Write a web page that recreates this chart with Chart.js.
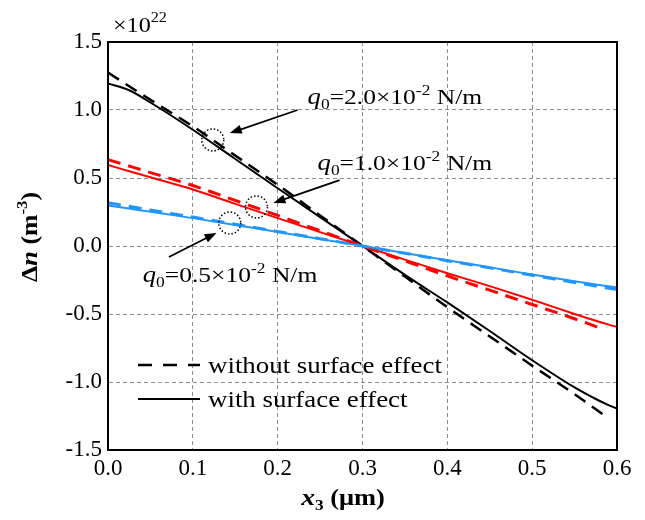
<!DOCTYPE html>
<html>
<head>
<meta charset="utf-8">
<script src="https://cdn.jsdelivr.net/npm/chart.js@4.4.0/dist/chart.umd.min.js"></script>
<style>
  html, body { margin: 0; padding: 0; background: #fff; }
  #wrap { width: 645px; height: 520px; }
</style>
</head>
<body>
<div id="wrap"><canvas id="chart" width="645" height="520"></canvas></div>
<script>
// x3 positions (um)
const xSolid = [0, 0.025, 0.05, 0.1, 0.15, 0.2, 0.25, 0.3, 0.35, 0.4, 0.45, 0.5, 0.55, 0.575, 0.59, 0.6];
const xDashed = [0, 0.05, 0.1, 0.15, 0.2, 0.25, 0.3, 0.35, 0.4, 0.45, 0.5, 0.55, 0.585];

// delta n (x10^22 m^-3), with surface effect (solid)
const q20Solid = [1.195, 1.145, 1.055, 0.855, 0.64, 0.425, 0.212, 0, -0.212, -0.415, -0.625, -0.84, -1.04, -1.125, -1.17, -1.195];
const q10Solid = [0.595, 0.55, 0.505, 0.415, 0.31, 0.205, 0.102, 0, -0.1, -0.2, -0.295, -0.395, -0.5, -0.55, -0.578, -0.595];
const q05Solid = [0.298, 0.275, 0.252, 0.205, 0.155, 0.103, 0.052, 0, -0.052, -0.105, -0.157, -0.21, -0.26, -0.283, -0.296, -0.305];

// without surface effect (dashed)
const q20Dashed = [1.275, 1.075, 0.88, 0.665, 0.45, 0.225, 0, -0.225, -0.45, -0.665, -0.88, -1.09, -1.245];
const q10Dashed = [0.635, 0.54, 0.445, 0.335, 0.225, 0.112, 0, -0.11, -0.22, -0.325, -0.43, -0.535, -0.615];
const q05Dashed = [0.318, 0.292, 0.265, 0.213, 0.16, 0.107, 0.054, 0, -0.054, -0.108, -0.161, -0.215, -0.268, -0.295, -0.31, -0.318];

const xTicks = [0, 0.1, 0.2, 0.3, 0.4, 0.5, 0.6];
const yTicks = [-1.5, -1.0, -0.5, 0.0, 0.5, 1.0, 1.5];
const legendLabels = ['without surface effect', 'with surface effect'];

const serif = '"Liberation Serif", "Times New Roman", serif';
const RED = '#ff0000';
const BLUE = '#2196ff';

const toPoints = (xs, ys) => xs.map((x, i) => ({ x, y: ys[i] }));

const line = (data, color, dashed) => ({
  data,
  borderColor: color,
  borderWidth: dashed ? (color === '#000' ? 2.5 : 3) : 2,
  borderDash: dashed ? [13, 8] : [],
  pointRadius: 0,
  fill: false,
  cubicInterpolationMode: 'monotone',
});

// text with sub/superscripts, drawn left to right, stretched sideways by sx
const richWidth = (ctx, parts, sx = 1) => parts.reduce((w, p) => {
  ctx.font = `${p.style || ''} ${p.size || 21}px ${serif}`;
  return w + ctx.measureText(p.t).width * sx;
}, 0);

const drawRich = (ctx, parts, x, y, sx = 1) => {
  ctx.save();
  ctx.translate(x, y);
  ctx.scale(sx, 1);
  let cx = 0;
  parts.forEach((p) => {
    ctx.font = `${p.style || ''} ${p.size || 21}px ${serif}`;
    ctx.fillText(p.t, cx, p.dy || 0);
    cx += ctx.measureText(p.t).width;
  });
  ctx.restore();
};

const qLabel = (val) => [
  { t: 'q', style: 'italic', size: 23 },
  { t: '0', size: 15, dy: 5 },
  { t: `=${val}\u00d710`, size: 22 },
  { t: '-2', size: 15, dy: -9 },
  { t: ' N/m', size: 22 },
];

const notes = [
  { label: '2.0', text: [0.2353, 1.044], circle: [0.1235, 0.78], from: [0.2235, 1.0], to: [0.1435, 0.83] },
  { label: '1.0', text: [0.247, 0.559], circle: [0.175, 0.287], from: [0.273, 0.485], to: [0.195, 0.316] },
  { label: '0.5', text: [0.041, -0.265], circle: [0.1435, 0.169], from: [0.0718, -0.081], to: [0.128, 0.096] },
];

const decor = {
  id: 'decor',
  afterDatasetsDraw(chart) {
    const { ctx, chartArea: a, scales: { x, y } } = chart;
    ctx.save();
    ctx.fillStyle = '#000';
    ctx.strokeStyle = '#000';
    ctx.textBaseline = 'alphabetic';

    // frame
    ctx.lineWidth = 2;
    ctx.setLineDash([]);
    ctx.strokeRect(a.left, a.top, a.right - a.left, a.bottom - a.top);

    // annotations
    notes.forEach((n) => {
      drawRich(ctx, qLabel(n.label), x.getPixelForValue(n.text[0]), y.getPixelForValue(n.text[1]), 1.16);

      ctx.lineWidth = 1.5;
      ctx.setLineDash([1.5, 2]);
      ctx.beginPath();
      ctx.arc(x.getPixelForValue(n.circle[0]), y.getPixelForValue(n.circle[1]), 11, 0, Math.PI * 2);
      ctx.stroke();

      const x1 = x.getPixelForValue(n.from[0]);
      const y1 = y.getPixelForValue(n.from[1]);
      const x2 = x.getPixelForValue(n.to[0]);
      const y2 = y.getPixelForValue(n.to[1]);
      const ang = Math.atan2(y2 - y1, x2 - x1);
      ctx.setLineDash([]);
      ctx.lineWidth = 1.8;
      ctx.beginPath();
      ctx.moveTo(x1, y1);
      ctx.lineTo(x2 - 8 * Math.cos(ang), y2 - 8 * Math.sin(ang));
      ctx.stroke();
      ctx.beginPath();
      ctx.moveTo(x2, y2);
      ctx.lineTo(x2 - 12 * Math.cos(ang) + 4.5 * Math.sin(ang), y2 - 12 * Math.sin(ang) - 4.5 * Math.cos(ang));
      ctx.lineTo(x2 - 12 * Math.cos(ang) - 4.5 * Math.sin(ang), y2 - 12 * Math.sin(ang) + 4.5 * Math.cos(ang));
      ctx.closePath();
      ctx.fill();
    });

    // legend
    const lx = a.left + 30;
    const ly = [365, 399];
    ctx.lineWidth = 2.5;
    ctx.setLineDash([14, 11]);
    ctx.beginPath();
    ctx.moveTo(lx, ly[0]);
    ctx.lineTo(lx + 62, ly[0]);
    ctx.stroke();
    ctx.setLineDash([]);
    ctx.lineWidth = 2;
    ctx.beginPath();
    ctx.moveTo(lx, ly[1]);
    ctx.lineTo(lx + 62, ly[1]);
    ctx.stroke();
    legendLabels.forEach((t, i) => drawRich(ctx, [{ t, size: 24 }], lx + 70, ly[i] + 8, 1.12));

    // multiplier
    drawRich(ctx, [{ t: '\u00d710', size: 21 }, { t: '22', size: 14, dy: -10 }], a.left + 5, 32, 1.15);

    // x title
    const xt = [
      { t: 'x', style: 'italic bold', size: 24 },
      { t: '3', style: 'bold', size: 15, dy: 5 },
      { t: ' (\u03bcm)', style: 'bold', size: 23 },
    ];
    drawRich(ctx, xt, 343 - richWidth(ctx, xt, 1.15) / 2, 505, 1.15);

    // y title
    const yt = [
      { t: '\u0394', style: 'bold', size: 23 },
      { t: 'n', style: 'italic bold', size: 24 },
      { t: ' (m', style: 'bold', size: 23 },
      { t: '-3', style: 'bold', size: 15, dy: -10 },
      { t: ')', style: 'bold', size: 23 },
    ];
    ctx.translate(37, 237);
    ctx.rotate(-Math.PI / 2);
    drawRich(ctx, yt, -richWidth(ctx, yt, 1.12) / 2, 0, 1.12);
    ctx.restore();
  },
};

const gridStyle = { color: '#8c8c8c', lineWidth: 1, drawTicks: false };
const dashGrid = { dash: [4, 3] };

new Chart(document.getElementById('chart'), {
  type: 'line',
  data: {
    datasets: [
      line(toPoints(xSolid, q05Solid), BLUE, false),
      line(toPoints(xSolid, q05Dashed), BLUE, true),
      line(toPoints(xSolid, q10Solid), RED, false),
      line(toPoints(xDashed, q10Dashed), RED, true),
      line(toPoints(xSolid, q20Solid), '#000', false),
      line(toPoints(xDashed, q20Dashed), '#000', true),
    ],
  },
  options: {
    responsive: false,
    animation: false,
    events: [],
    layout: { padding: { top: 42, right: 28, left: 0, bottom: 0 } },
    plugins: { legend: { display: false }, tooltip: { enabled: false } },
    scales: {
      x: {
        type: 'linear',
        min: 0,
        max: 0.6,
        afterBuildTicks: (s) => { s.ticks = xTicks.map((v) => ({ value: v })); },
        afterFit: (s) => { s.height = 70; },
        grid: gridStyle,
        border: { display: true, color: '#000', width: 2, ...dashGrid },
        ticks: {
          color: '#000',
          padding: 5,
          maxRotation: 0,
          font: { family: serif, size: 23 },
          callback: (v) => v.toFixed(1),
        },
      },
      y: {
        type: 'linear',
        min: -1.5,
        max: 1.5,
        afterBuildTicks: (s) => { s.ticks = yTicks.map((v) => ({ value: v })); },
        afterFit: (s) => { s.width = 108; },
        grid: gridStyle,
        border: { display: true, color: '#000', width: 2, ...dashGrid },
        ticks: {
          color: '#000',
          padding: 6,
          font: { family: serif, size: 23 },
          callback: (v) => v.toFixed(1),
        },
      },
    },
  },
  plugins: [decor],
});
</script>
</body>
</html>
